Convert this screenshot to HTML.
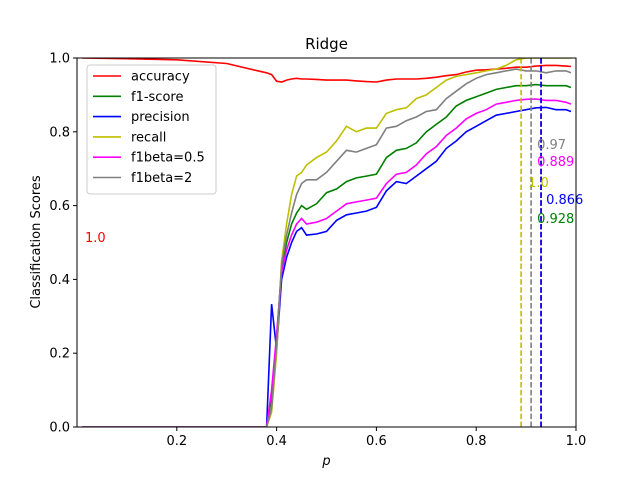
<!DOCTYPE html>
<html><head><meta charset="utf-8"><style>
body{margin:0;background:#fff;}
svg text{font-family:"DejaVu Sans","Liberation Sans",sans-serif;}
</style></head><body>
<svg id="chart" width="640" height="480" xmlns="http://www.w3.org/2000/svg">
<rect width="640" height="480" fill="#fff"/>
<g id="marks"></g>
<g id="axes"></g>
</svg>
<script>
const xs=[0.01,0.1,0.2,0.3,0.37,0.38,0.39,0.40,0.41,0.42,0.43,0.44,0.45,0.46,0.48,0.50,0.52,0.54,0.56,0.58,0.60,0.62,0.64,0.66,0.68,0.70,0.72,0.74,0.76,0.78,0.80,0.82,0.84,0.86,0.88,0.90,0.92,0.94,0.96,0.98,0.99];
const accuracy=[1.0,0.998,0.995,0.985,0.963,0.96,0.955,0.937,0.935,0.94,0.943,0.945,0.943,0.943,0.942,0.94,0.94,0.94,0.938,0.936,0.935,0.94,0.943,0.943,0.943,0.945,0.948,0.952,0.955,0.962,0.967,0.968,0.97,0.972,0.975,0.975,0.978,0.98,0.98,0.978,0.977];
const f1score=[0,0,0,0,0,0,0.08,0.24,0.43,0.50,0.55,0.58,0.60,0.59,0.605,0.635,0.645,0.665,0.675,0.68,0.685,0.73,0.75,0.755,0.77,0.80,0.82,0.84,0.87,0.885,0.895,0.905,0.915,0.92,0.925,0.925,0.928,0.925,0.925,0.925,0.92];
const precision=[0,0,0,0,0,0,0.333,0.21,0.40,0.46,0.50,0.53,0.54,0.52,0.523,0.53,0.56,0.575,0.58,0.585,0.595,0.64,0.665,0.66,0.68,0.70,0.72,0.755,0.775,0.80,0.815,0.83,0.845,0.85,0.855,0.86,0.865,0.866,0.86,0.86,0.855];
const recall=[0,0,0,0,0,0,0.04,0.20,0.45,0.55,0.63,0.68,0.69,0.71,0.73,0.745,0.775,0.815,0.80,0.81,0.81,0.85,0.86,0.865,0.89,0.90,0.92,0.94,0.95,0.955,0.96,0.965,0.97,0.98,0.995,1.0,1.0,1.0,1.0,1.0,1.0];
const f1beta05=[0,0,0,0,0,0,0.10,0.25,0.42,0.48,0.52,0.55,0.565,0.55,0.555,0.565,0.585,0.605,0.61,0.615,0.62,0.66,0.685,0.69,0.71,0.74,0.76,0.79,0.81,0.835,0.85,0.86,0.875,0.88,0.885,0.888,0.889,0.885,0.885,0.88,0.875];
const f1beta2=[0,0,0,0,0,0,0.05,0.22,0.44,0.52,0.58,0.63,0.66,0.67,0.67,0.69,0.72,0.75,0.745,0.755,0.765,0.81,0.815,0.83,0.84,0.855,0.86,0.89,0.91,0.93,0.945,0.955,0.96,0.965,0.97,0.965,0.965,0.96,0.965,0.965,0.96];
const seriesNames=["accuracy","f1-score","precision","recall","f1beta=0.5","f1beta=2"];
const bestX=[0.01,0.93,0.93,0.89,0.93,0.91];
const bestLabels=["1.0","0.928","0.866","1.0","0.889","0.97"];
const xTicks=[0.2,0.4,0.6,0.8,1.0];
const yTicks=[0.0,0.2,0.4,0.6,0.8,1.0];

const L=77,R=576,T=58,B=427;
const sx=v=>L+(v-0.0)*(R-L)/1.0;
const sy=v=>B-v*(B-T);
const colors=["#ff0000","#008000","#0000ff","#bfbf00","#ff00ff","#808080"];
const data=[accuracy,f1score,precision,recall,f1beta05,f1beta2];
const labelPos=[[3,242],[-4,223],[5,204],[7,187],[-4,166],[6,149]];
const NS="http://www.w3.org/2000/svg";
const marks=document.getElementById('marks'),axes=document.getElementById('axes');
function mk(tag,attrs,parent){const e=document.createElementNS(NS,tag);for(const k in attrs)e.setAttribute(k,attrs[k]);parent.appendChild(e);return e;}
const clip=mk('clipPath',{id:'pc'},marks);mk('rect',{x:L,y:T,width:R-L,height:B-T},clip);
const g=mk('g',{'clip-path':'url(#pc)'},marks);
data.forEach((arr,i)=>{
  const p=mk('polyline',{points:arr.map((v,j)=>sx(xs[j]).toFixed(1)+','+sy(v).toFixed(1)).join(' '),fill:'none',stroke:colors[i],'stroke-width':1.6},g);
  
  
});
[3,5,1,4,2].forEach(i=>{
  const l=mk('line',{x1:sx(bestX[i]),x2:sx(bestX[i]),y1:B,y2:T,stroke:colors[i],'stroke-width':1.6,'stroke-dasharray':'5.5,2.4'},g);
  
  
});
data.forEach((arr,i)=>{
  const t=mk('text',{x:sx(bestX[i])+labelPos[i][0],y:labelPos[i][1],fill:colors[i],'font-size':13},marks);
  t.textContent=bestLabels[i];
  
  
});
const frame=mk('rect',{x:L,y:T,width:R-L,height:B-T,fill:'none',stroke:'#000','stroke-width':1},axes);


xTicks.forEach(v=>{
  mk('line',{x1:sx(v),x2:sx(v),y1:B,y2:B+4,stroke:'#000'},axes);
  const t=mk('text',{x:sx(v),y:B+18,'text-anchor':'middle','font-size':13},axes);t.textContent=v.toFixed(1);
  
  
});
yTicks.forEach(v=>{
  mk('line',{x1:L-4,x2:L,y1:sy(v),y2:sy(v),stroke:'#000'},axes);
  const t=mk('text',{x:L-7,y:sy(v)+4.5,'text-anchor':'end','font-size':13},axes);t.textContent=v.toFixed(1);
  
  
});
const title=mk('text',{x:(L+R)/2,y:49,'text-anchor':'middle','font-size':15},axes);title.textContent='Ridge';


const xl=mk('text',{x:(L+R)/2,y:465,'text-anchor':'middle','font-size':13,'font-style':'italic'},axes);xl.textContent='p';


const yl=mk('text',{x:0,y:0,'text-anchor':'middle','font-size':13,transform:'translate(40,242) rotate(-90)'},axes);yl.textContent='Classification Scores';


const lg=mk('g',{},axes);


mk('rect',{x:87,y:65,width:129,height:129,rx:3,fill:'#fff','fill-opacity':0.8,stroke:'#ccc'},lg);
seriesNames.forEach((n,i)=>{
  const y=76+i*20.3;
  mk('line',{x1:93,x2:121,y1:y,y2:y,stroke:colors[i],'stroke-width':1.6},lg);
  const t=mk('text',{x:131,y:y+4.5,'font-size':13},lg);t.textContent=n;
  
  
});
</script>
</body></html>
